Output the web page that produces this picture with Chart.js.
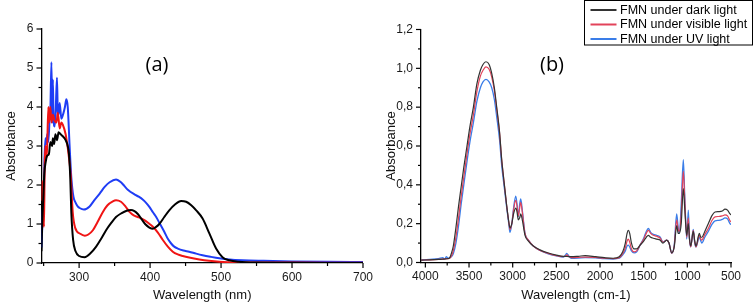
<!DOCTYPE html>
<html>
<head>
<meta charset="UTF-8">
<title>FMN absorbance spectra</title>
<script src="https://cdn.jsdelivr.net/npm/chart.js"></script>
<style>
  body { margin: 0; background: #fff; }
  canvas { position: absolute; top: 0; }
</style>
</head>
<body>
<canvas id="chartA" width="380" height="304" style="left:0"></canvas>
<canvas id="chartB" width="375" height="304" style="left:380px"></canvas>
<script>
// ---- (a) UV-vis spectra ----
const uvDarkX = [247,248,249.6,251,253,255,257.5,259.5,262,263,264.8,266.6,269,271,274,277,281,284,285.7,287.5,289,291.5,295,300,307.7,316,324,331,338,345,352,360,367,373,378,383,387.5,393,399,404,408,413,420,427,435,443.7,450.8,458,465,474,483.5,493,502,511.7,525,550,600,650,700];
const uvDarkY = [0.3,1.0,1.7,2.3,2.6,2.75,2.8,3.1,3.0,3.2,3.05,3.3,3.15,3.35,3.3,3.25,3.15,3.0,2.8,2.2,1.3,0.6,0.3,0.18,0.15,0.25,0.42,0.62,0.84,1.02,1.18,1.28,1.34,1.36,1.33,1.25,1.14,1.0,0.91,0.88,0.92,1.0,1.18,1.35,1.5,1.59,1.57,1.48,1.35,1.14,0.76,0.37,0.15,0.07,0.03,0.01,0.005,0.003,0.002];

const uvVisibleX = [247,248,249.6,250.5,251.5,252.5,254,255,256.7,257.5,259.5,261,263,265.5,268,270,272.6,275,277,281,284,285.7,288,291,294.5,301.6,308,313,319.4,326,333.5,340,347.5,352,359,365,371,377,382.7,392,398,404,411,418,425,432,439,446,455,469.5,483,497.6,510,530,560,600,650,700];
const uvVisibleY = [1.6,2.1,1.3,0.93,2.5,3.0,2.7,3.0,4.0,3.6,4.0,3.6,3.8,3.65,3.6,3.85,3.45,3.6,3.55,3.3,2.95,2.7,2.3,1.3,0.9,0.75,0.7,0.73,0.84,1.05,1.31,1.48,1.58,1.61,1.57,1.46,1.31,1.22,1.18,1.1,1.02,0.93,0.78,0.59,0.42,0.29,0.22,0.18,0.14,0.09,0.055,0.03,0.02,0.015,0.012,0.01,0.008,0.007];

const uvUvX = [247,248,249,250,251,252.5,254,255,256.5,258.5,259.5,261,262.3,263,264,265.5,267,268.8,270,271,272.6,275,278,280,282,284,286.6,289,292,295,298,300.7,306.7,314.8,321,329,336,343,352,359,364,368.6,378,384,390,395,399,404,408.6,414,420,425,429.7,434,439,447,455,465,474,485,497.6,511.7,530,560,600,650,700];
const uvUvY = [0.4,0.9,1.5,1.3,2.5,3.2,3.05,3.3,3.1,3.7,3.9,5.15,3.6,4.7,3.7,3.5,3.9,4.75,3.85,3.8,4.1,3.7,3.85,4.0,4.2,4.0,3.0,2.2,1.7,1.55,1.45,1.41,1.37,1.45,1.6,1.78,1.95,2.07,2.14,2.07,1.97,1.88,1.76,1.7,1.62,1.53,1.44,1.3,1.18,1.0,0.8,0.62,0.5,0.42,0.37,0.32,0.29,0.24,0.2,0.16,0.12,0.09,0.07,0.055,0.04,0.03,0.025];

const uvTicksX = [300, 400, 500, 600, 700];
const uvTicksY = [0, 1, 2, 3, 4, 5, 6];

// ---- (b) FTIR spectra ----
const irWavenumber = [
  4050,3950,3850,3800,3780,3760,3740,3720,3700,3680,
  3650,3620,3590,3560,3520,3490,3450,3410,3370,3340,
  3306,3270,3240,3210,3183,3150,3126,3100,3068,3045,
  3031,3010,2990,2965,2950,2936,2920,2908,2890,2859,
  2820,2764,2687,2600,2500,2420,2390,2381,2360,2330,
  2250,2170,2050,1950,1850,1780,1740,1710,1690,1676,
  1660,1640,1610,1580,1540,1500,1470,1447,1420,1390,
  1351,1310,1280,1236,1210,1179,1150,1122,1105,1092,
  1070,1046,1030,1007,989,975,961,932,915,901,
  863,845,835,800,760,720,683,640,600,569,
  540,511,500];
const irDark = [
  .012,.014,.016,.017,.018,.019,.02,.025,.05,.085,
  .18,.29,.39,.49,.61,.70,.80,.92,.99,1.02,
  1.034,1.02,.974,.90,.80,.67,.53,.42,.29,.21,
  .178,.2,.25,.28,.26,.22,.23,.25,.22,.14,
  .11,.085,.065,.05,.038,.032,.032,.032,.03,.03,
  .032,.035,.03,.025,.022,.03,.055,.1,.15,.165,
  .15,.1,.07,.07,.09,.11,.13,.14,.13,.125,
  .12,.115,.1,.115,.1,.05,.08,.19,.15,.15,
  .2,.38,.28,.14,.2,.12,.085,.16,.11,.085,
  .15,.13,.13,.16,.2,.24,.26,.262,.265,.275,
  .27,.25,.245];
const irVisible = [
  .012,.014,.016,.017,.018,.02,.02,.022,.035,.06,
  .13,.23,.34,.44,.57,.66,.76,.88,.96,.99,
  1.008,.995,.955,.885,.79,.665,.53,.42,.29,.21,
  .17,.2,.27,.32,.29,.24,.28,.31,.26,.15,
  .115,.085,.062,.048,.035,.03,.035,.04,.032,.025,
  .026,.028,.026,.022,.02,.025,.045,.075,.11,.12,
  .105,.07,.055,.06,.09,.12,.15,.165,.15,.14,
  .135,.125,.105,.115,.1,.048,.085,.22,.17,.16,
  .25,.47,.33,.13,.23,.12,.08,.165,.105,.08,
  .14,.12,.115,.145,.175,.215,.235,.237,.24,.245,
  .24,.215,.21];
const irUv = [
  .012,.016,.02,.025,.016,.03,.022,.025,.03,.045,
  .1,.19,.3,.40,.53,.62,.72,.83,.90,.93,
  .943,.93,.90,.84,.75,.63,.50,.40,.28,.20,
  .155,.2,.28,.342,.30,.236,.30,.327,.27,.15,
  .115,.085,.062,.046,.034,.028,.042,.047,.035,.022,
  .023,.025,.024,.02,.018,.022,.04,.06,.085,.09,
  .08,.06,.05,.055,.09,.125,.16,.175,.155,.145,
  .14,.13,.105,.115,.1,.047,.09,.25,.18,.15,
  .3,.53,.35,.12,.27,.12,.08,.17,.1,.08,
  .13,.11,.1,.13,.16,.195,.215,.217,.222,.23,
  .225,.2,.195];

const irTicksX = [500, 1000, 1500, 2000, 2500, 3000, 3500, 4000];
const irTicksY = [0, 0.2, 0.4, 0.6, 0.8, 1.0, 1.2];

const seriesNames = ['FMN under dark light', 'FMN under visible light', 'FMN under UV light'];

const toPoints = (xs, ys) => xs.map((x, i) => ({ x: x, y: ys[i] }));
const FONT = '"Liberation Sans", Arial, sans-serif';

// major ticks from the scale, minor ticks half way between them
const axisTicks = {
  id: 'axisTicks',
  afterDraw(chart) {
    const ctx = chart.ctx;
    ctx.save();
    ctx.strokeStyle = '#000';
    ctx.lineWidth = 1.2;
    ['x', 'y'].forEach(id => {
      const s = chart.scales[id];
      const vals = s.ticks.map(t => t.value);
      const step = vals[1] - vals[0];
      const minors = [];
      for (let v = vals[0] - step / 2; v <= s.max + 1e-9; v += step) {
        if (v >= s.min - 1e-9) minors.push(v);
      }
      const draw = (v, len) => {
        const p = s.getPixelForValue(v);
        ctx.beginPath();
        if (id === 'x') { ctx.moveTo(p, s.top); ctx.lineTo(p, s.top + len); }
        else { ctx.moveTo(s.right, p); ctx.lineTo(s.right - len, p); }
        ctx.stroke();
      };
      vals.forEach(v => draw(v, 5));
      minors.forEach(v => draw(v, 3));
    });
    ctx.restore();
  }
};

const panelLabel = {
  id: 'panelLabel',
  afterDraw(chart, args, opts) {
    const ctx = chart.ctx;
    ctx.save();
    ctx.font = '20px "Open Sans", sans-serif';
    ctx.fillStyle = '#000';
    ctx.textAlign = 'center';
    ctx.textBaseline = 'middle';
    ctx.fillText(opts.text, opts.x, opts.y);
    ctx.restore();
  }
};

const boxLegend = {
  id: 'boxLegend',
  afterDraw(chart, args, opts) {
    if (!opts.show) return;
    const ctx = chart.ctx;
    ctx.save();
    ctx.strokeStyle = '#000';
    ctx.lineWidth = 1;
    ctx.strokeRect(opts.left, opts.top, opts.width, opts.height);
    ctx.font = '12.5px ' + FONT;
    ctx.textBaseline = 'middle';
    chart.data.datasets.forEach((ds, i) => {
      const y = opts.top + opts.firstRow + i * opts.rowGap;
      ctx.strokeStyle = ds.borderColor;
      ctx.lineWidth = 2;
      ctx.beginPath();
      ctx.moveTo(opts.left + 6, y);
      ctx.lineTo(opts.left + 32, y);
      ctx.stroke();
      ctx.fillStyle = '#000';
      ctx.fillText(ds.label, opts.left + 35.5, y + 0.5);
    });
    ctx.restore();
  }
};

function axisOptions(values, extra) {
  return Object.assign({
    type: 'linear',
    grid: { drawOnChartArea: false, drawTicks: false },
    border: { display: true, color: '#000', width: 1.3 },
    afterBuildTicks: s => { s.ticks = values.map(v => ({ value: v })); }
  }, extra);
}

function makeChart(canvasId, datasets, cfg) {
  return new Chart(document.getElementById(canvasId), {
    type: 'line',
    data: { datasets: datasets },
    options: {
      responsive: false,
      animation: false,
      elements: {
        point: { radius: 0 },
        line: { cubicInterpolationMode: 'monotone' }
      },
      layout: { padding: { top: cfg.top, right: cfg.right, left: 0, bottom: 0 } },
      plugins: {
        legend: { display: false },
        tooltip: { enabled: false },
        panelLabel: cfg.label,
        boxLegend: cfg.legend
      },
      scales: {
        x: axisOptions(cfg.xTicks, {
          min: cfg.xMin, max: cfg.xMax, reverse: cfg.reverse,
          ticks: {
            autoSkip: false, maxRotation: 0, minRotation: 0, padding: 7, color: '#1a1a1a',
            font: { family: FONT, size: 12 }, callback: v => String(v)
          },
          title: { display: true, text: cfg.xTitle, color: '#111', font: { family: FONT, size: 13 }, padding: { top: 0, bottom: 1 } },
          afterFit: s => { s.height = cfg.xHeight; }
        }),
        y: axisOptions(cfg.yTicks, {
          min: 0, max: cfg.yMax,
          ticks: { autoSkip: false, padding: 8, color: '#1a1a1a', font: { family: FONT, size: 12 }, callback: cfg.yFormat },
          title: { display: true, text: 'Absorbance', color: '#111', font: { family: FONT, size: 13 }, padding: { top: 4, bottom: 0 } },
          afterFit: s => { s.width = cfg.yWidth; }
        })
      }
    },
    plugins: [axisTicks, panelLabel, boxLegend]
  });
}

makeChart('chartA', [
  { label: seriesNames[0], data: toPoints(uvDarkX, uvDarkY), borderColor: '#000000', borderWidth: 2 },
  { label: seriesNames[1], data: toPoints(uvVisibleX, uvVisibleY), borderColor: '#f01414', borderWidth: 2 },
  { label: seriesNames[2], data: toPoints(uvUvX, uvUvY), borderColor: '#1f3df5', borderWidth: 2 }
], {
  top: 29, right: 16.5, xHeight: 41, yWidth: 41.5,
  xMin: 247, xMax: 700, xTicks: uvTicksX, reverse: false, xTitle: 'Wavelength (nm)',
  yMax: 6, yTicks: uvTicksY, yFormat: v => String(v),
  label: { text: '(a)', x: 157, y: 65 },
  legend: { show: false }
});

makeChart('chartB', [
  { label: seriesNames[0], data: toPoints(irWavenumber, irDark), borderColor: '#333333', borderWidth: 1.2 },
  { label: seriesNames[1], data: toPoints(irWavenumber, irVisible), borderColor: '#e2435a', borderWidth: 1.2 },
  { label: seriesNames[2], data: toPoints(irWavenumber, irUv), borderColor: '#3a7de8', borderWidth: 1.3 }
], {
  top: 29.5, right: 24, xHeight: 41.5, yWidth: 41,
  xMin: 500, xMax: 4050, xTicks: irTicksX, reverse: true, xTitle: 'Wavelength (cm-1)',
  yMax: 1.2, yTicks: irTicksY, yFormat: v => v.toFixed(1).replace('.', ','),
  label: { text: '(b)', x: 172, y: 65 },
  legend: { show: true, left: 204.5, top: 0.5, width: 168, height: 44.5, firstRow: 9.5, rowGap: 14.5 }
});
</script>
</body>
</html>
